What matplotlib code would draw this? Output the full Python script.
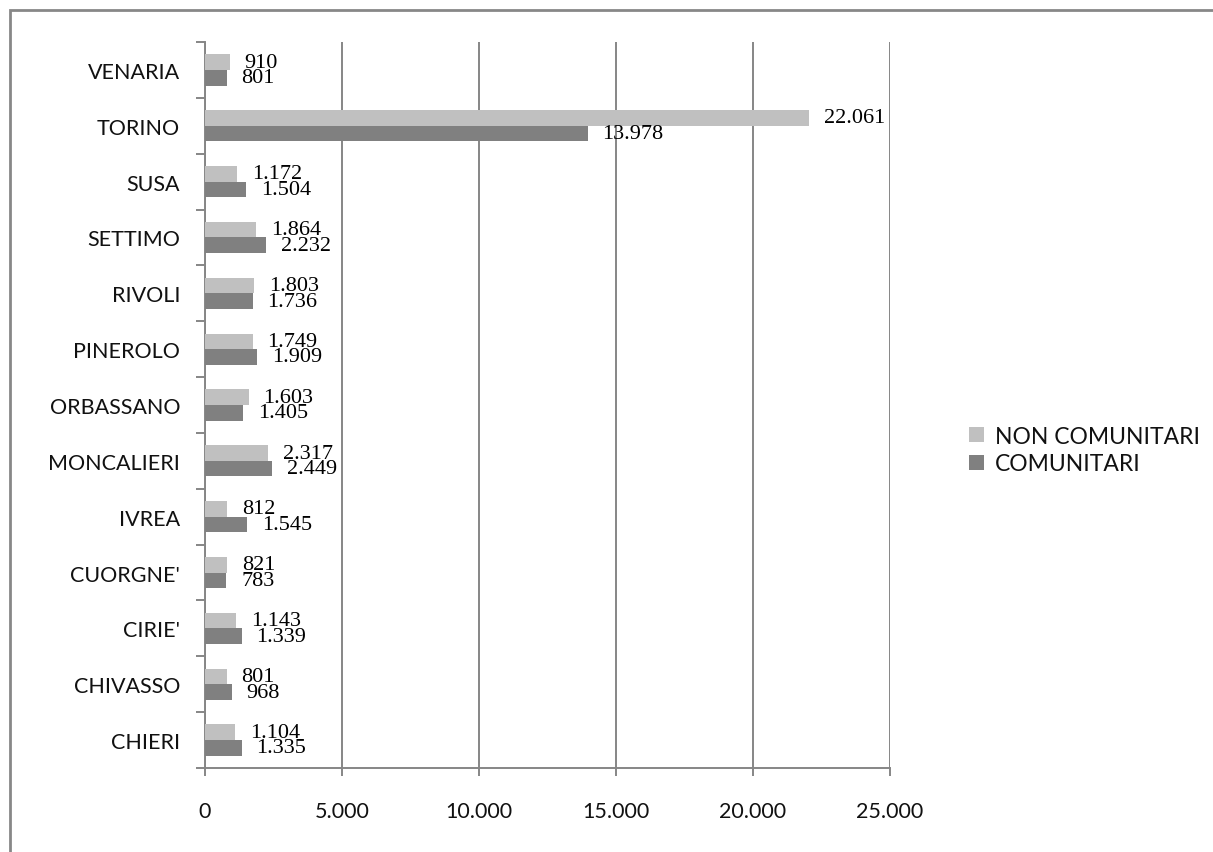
import matplotlib
matplotlib.use("Agg")
import matplotlib.pyplot as plt
from matplotlib.patches import Rectangle
from matplotlib.ticker import FuncFormatter

# Stranieri per distretto (valori assoluti)
distretti = ["CHIERI", "CHIVASSO", "CIRIE'", "CUORGNE'", "IVREA", "MONCALIERI",
             "ORBASSANO", "PINEROLO", "RIVOLI", "SETTIMO", "SUSA", "TORINO", "VENARIA"]
non_comunitari = [1104, 801, 1143, 821, 812, 2317, 1603, 1749, 1803, 1864, 1172, 22061, 910]
comunitari = [1335, 968, 1339, 783, 1545, 2449, 1405, 1909, 1736, 2232, 1504, 13978, 801]
x_ticks = [0, 5000, 10000, 15000, 20000, 25000]

W, H = 1213, 853
fig = plt.figure(figsize=(W / 100, H / 100), dpi=100)
fig.patch.set_facecolor("white")

# chart border
fig.add_artist(Rectangle((10 / W, -0.1), 1.2, 1 - 11 / H + 0.1, transform=fig.transFigure,
                         fill=False, edgecolor="#878787", linewidth=2.0))

ax = fig.add_axes([205 / W, 1 - 769 / H, (890 - 205) / W, (769 - 43) / H])

LIGHT = "#C0C0C0"
DARK = "#808080"
GRID = "#868686"
TICK_FONT = "Lato"
LABEL_FONT = "Liberation Serif"

n = len(distretti)
ypos = list(range(n))
bh = 0.28

b1 = ax.barh([y + bh / 2 for y in ypos], non_comunitari, height=bh, color=LIGHT,
             label="NON COMUNITARI", zorder=3)
b2 = ax.barh([y - bh / 2 for y in ypos], comunitari, height=bh, color=DARK,
             label="COMUNITARI", zorder=3)


def fmt(v):
    return f"{v:,}".replace(",", ".")


for bars, vals in ((b1, non_comunitari), (b2, comunitari)):
    for rect, v in zip(bars, vals):
        ax.annotate(fmt(v), (v, rect.get_y() + rect.get_height() / 2),
                    xytext=(10.5, 0), textcoords="offset points",
                    ha="left", va="center", fontsize=16, family=LABEL_FONT,
                    color="black", zorder=4)

ax.set_xlim(0, 25000)
ax.set_ylim(-0.5, n - 0.5)
ax.set_xticks(x_ticks)
ax.xaxis.set_major_formatter(FuncFormatter(lambda v, p: fmt(int(v))))
ax.set_yticks(ypos)
ax.set_yticklabels(distretti)
ax.set_yticks([y - 0.5 for y in range(n + 1)], minor=True)

ax.grid(axis="x", color=GRID, linewidth=1.4, zorder=0)
for s in ("top", "right"):
    ax.spines[s].set_visible(False)
for s in ("left", "bottom"):
    ax.spines[s].set_color(GRID)
    ax.spines[s].set_linewidth(1.4)

ax.tick_params(axis="y", which="major", length=0, pad=18)
ax.tick_params(axis="y", which="minor", length=6.5, width=1.4, color=GRID)
ax.tick_params(axis="x", length=6, width=1.4, color=GRID, pad=18)
for lbl in ax.get_xticklabels() + ax.get_yticklabels():
    lbl.set_family(TICK_FONT)
    lbl.set_fontsize(15.5)
    lbl.set_color("#111111")

leg = fig.legend(handles=[b1, b2], loc="center left",
                 bbox_to_anchor=(948 / W, 1 - 451 / H), frameon=False,
                 prop={"family": TICK_FONT, "size": 16.5},
                 handlelength=0.65, handleheight=0.65, handletextpad=0.5,
                 labelspacing=0.3)
for t in leg.get_texts():
    t.set_color("#111111")

fig.savefig("out.png", dpi=100, facecolor="white")
